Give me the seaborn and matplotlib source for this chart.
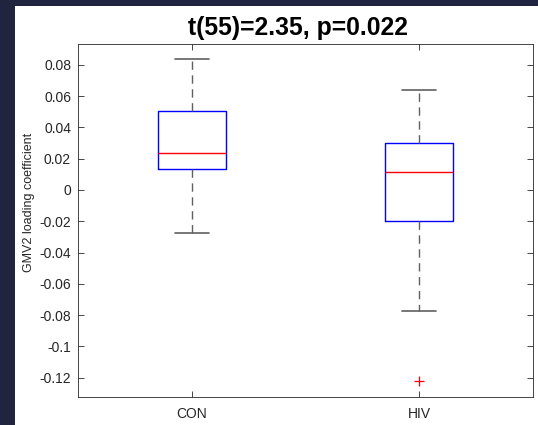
import matplotlib
matplotlib.use("Agg")
import matplotlib.pyplot as plt
from matplotlib.patches import Rectangle
import seaborn as sns

# ---- data ----
groups = ["CON", "HIV"]
whisker_low = [-0.0273, -0.0771]
q1 = [0.0134, -0.0200]
medians = [0.0235, 0.0113]
q3 = [0.0507, 0.0302]
whisker_high = [0.0835, 0.0639]
outliers = [[], [-0.1218]]
yticks = [0.08, 0.06, 0.04, 0.02, 0, -0.02, -0.04, -0.06, -0.08, -0.1, -0.12]
ytick_labels = ["0.08", "0.06", "0.04", "0.02", "0", "-0.02", "-0.04", "-0.06", "-0.08", "-0.1", "-0.12"]
title = "t(55)=2.35, p=0.022"
ylabel = "GMV2 loading coefficient"

sns.set_theme(style="white")
plt.rcParams["font.family"] = ["Liberation Sans", "DejaVu Sans"]

fig = plt.figure(figsize=(5.38, 4.25), dpi=100)
fig.patch.set_facecolor("white")
# dark frame bands
fig.patches.append(Rectangle((0, 0), 15 / 538, 1, transform=fig.transFigure,
                             facecolor="#21243f", edgecolor="none", zorder=0))
fig.patches.append(Rectangle((0, 1 - 6 / 425), 1, 6 / 425, transform=fig.transFigure,
                             facecolor="#21243f", edgecolor="none", zorder=0))

ax = fig.add_axes([78 / 538, 1 - 397 / 425, (533 - 78) / 538, (397 - 44) / 425])

stats = []
for i, g in enumerate(groups):
    stats.append(dict(label=g, whislo=whisker_low[i], q1=q1[i], med=medians[i],
                      q3=q3[i], whishi=whisker_high[i], fliers=outliers[i]))

ax.bxp(stats, positions=[1, 2], widths=0.30, showfliers=True,
       boxprops=dict(color="#0000ff", linewidth=1.0),
       medianprops=dict(color="#ff0000", linewidth=1.0),
       whiskerprops=dict(color="#606060", linewidth=1.0, linestyle=(0, (6, 4))),
       capprops=dict(color="#606060", linewidth=1.2),
       capwidths=0.15,
       flierprops=dict(marker="+", markeredgecolor="#ff0000", markersize=7,
                       markeredgewidth=0.9, linestyle="none"))

ax.set_xlim(0.5, 2.5)
ax.set_ylim(-0.1323, 0.0933)
ax.set_yticks(yticks)
ax.set_yticklabels(ytick_labels)
ax.set_xticks([1, 2])
ax.set_xticklabels(groups)

for s in ax.spines.values():
    s.set_visible(True)
    s.set_color("#262626")
    s.set_linewidth(0.6)

ax.tick_params(axis="both", which="both", direction="in", length=4, width=0.6,
               color="#262626", labelsize=10, labelcolor="#262626",
               top=True, right=True, left=True, bottom=True)
ax.tick_params(axis="x", pad=7)
ax.tick_params(axis="y", pad=5)

ax.set_ylabel(ylabel, fontsize=9, color="#262626")
# label centred a bit above the axes middle, as in the reference
ax.yaxis.set_label_coords(-(78 - 29) / 455, (397 - 202) / 353)
ax.yaxis.label.set_va("center")

fig.text(298 / 538, 1 - 27.5 / 425, title, ha="center", va="center",
         fontsize=17.8, fontweight="bold", color="black")

fig.savefig("out.png", dpi=100)
